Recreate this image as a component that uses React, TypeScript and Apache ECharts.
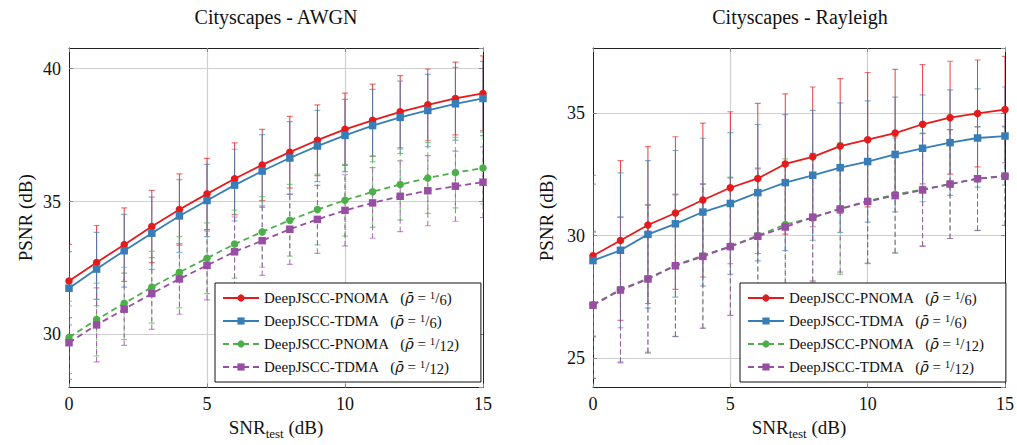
import React, { useEffect, useRef } from 'react';
import * as echarts from 'echarts';

// ---------- data ----------
const snr = [0, 1, 2, 3, 4, 5, 6, 7, 8, 9, 10, 11, 12, 13, 14, 15];

// AWGN
const awgnPnoma16 = [32.01, 32.71, 33.38, 34.06, 34.70, 35.29, 35.86, 36.38, 36.86, 37.31, 37.72, 38.06, 38.38, 38.64, 38.88, 39.07];
const awgnTdma16 = [31.74, 32.46, 33.15, 33.81, 34.46, 35.04, 35.62, 36.15, 36.64, 37.09, 37.49, 37.86, 38.17, 38.43, 38.68, 38.88];
const awgnPnoma112 = [29.89, 30.56, 31.17, 31.78, 32.34, 32.87, 33.40, 33.86, 34.30, 34.70, 35.05, 35.37, 35.64, 35.89, 36.09, 36.26];
const awgnTdma112 = [29.69, 30.36, 30.95, 31.54, 32.09, 32.60, 33.11, 33.53, 33.96, 34.33, 34.67, 34.95, 35.20, 35.41, 35.58, 35.73];
const awgnPnoma16Std = [1.38, 1.39, 1.38, 1.36, 1.34, 1.34, 1.35, 1.34, 1.35, 1.33, 1.36, 1.36, 1.36, 1.35, 1.37, 1.41];
const awgnTdma16Std = [1.38, 1.38, 1.37, 1.36, 1.37, 1.36, 1.35, 1.37, 1.37, 1.34, 1.36, 1.36, 1.36, 1.36, 1.37, 1.40];
const awgnPnoma112Std = [1.36, 1.37, 1.36, 1.35, 1.34, 1.33, 1.28, 1.33, 1.35, 1.33, 1.35, 1.34, 1.34, 1.33, 1.33, 1.35];
const awgnTdma112Std = [1.38, 1.39, 1.36, 1.35, 1.33, 1.30, 1.31, 1.31, 1.32, 1.28, 1.34, 1.33, 1.33, 1.32, 1.32, 1.33];

// Rayleigh
const rayPnoma16 = [29.18, 29.80, 30.43, 30.92, 31.45, 31.95, 32.33, 32.92, 33.21, 33.65, 33.91, 34.18, 34.54, 34.81, 34.98, 35.14];
const rayTdma16 = [28.98, 29.40, 30.05, 30.48, 30.96, 31.31, 31.75, 32.16, 32.46, 32.77, 33.02, 33.31, 33.56, 33.79, 33.98, 34.06];
const rayPnoma112 = [27.18, 27.80, 28.25, 28.79, 29.18, 29.56, 30.00, 30.45, 30.72, 31.10, 31.40, 31.68, 31.88, 32.10, 32.32, 32.44];
const rayTdma112 = [27.16, 27.78, 28.23, 28.77, 29.15, 29.55, 29.97, 30.35, 30.75, 31.08, 31.39, 31.63, 31.86, 32.10, 32.32, 32.42];
const rayPnoma16Std = [3.28, 3.26, 3.20, 3.11, 3.14, 3.10, 3.06, 2.86, 2.85, 2.75, 2.74, 2.60, 2.43, 2.30, 2.18, 2.17];
const rayTdma16Std = [3.12, 3.16, 3.01, 2.99, 3.01, 2.89, 2.78, 2.77, 2.65, 2.64, 2.47, 2.34, 2.18, 2.15, 2.00, 2.00];
const rayPnoma112Std = [3.00, 2.95, 3.00, 2.90, 2.94, 2.82, 2.76, 2.68, 2.62, 2.68, 2.55, 2.37, 2.30, 2.22, 2.12, 2.02];
const rayTdma112Std = [2.98, 2.97, 3.02, 2.89, 2.94, 2.80, 2.75, 2.65, 2.60, 2.57, 2.51, 2.35, 2.30, 2.22, 2.11, 2.01];

const titles = ['Cityscapes - AWGN', 'Cityscapes - Rayleigh'];
const seriesNames = [
  'DeepJSCC-PNOMA (1/6)',
  'DeepJSCC-TDMA (1/6)',
  'DeepJSCC-PNOMA (1/12)',
  'DeepJSCC-TDMA (1/12)',
];
const EN = '\u2002\u2005';
const QS = '\u2005';
const legendLabels: Record<string, string> = {
  'DeepJSCC-PNOMA (1/6)': `{m|DeepJSCC-PNOMA${EN}(}{i|ρ̄}{m|${QS}=${QS}}{s|1}{m|/}{d|6}{m|)}`,
  'DeepJSCC-TDMA (1/6)': `{m|DeepJSCC-TDMA${EN}(}{i|ρ̄}{m|${QS}=${QS}}{s|1}{m|/}{d|6}{m|)}`,
  'DeepJSCC-PNOMA (1/12)': `{m|DeepJSCC-PNOMA${EN}(}{i|ρ̄}{m|${QS}=${QS}}{s|1}{m|/}{d|12}{m|)}`,
  'DeepJSCC-TDMA (1/12)': `{m|DeepJSCC-TDMA${EN}(}{i|ρ̄}{m|${QS}=${QS}}{s|1}{m|/}{d|12}{m|)}`,
};

const COLORS = ['#e41a1c', '#377eb8', '#4daf4a', '#984ea3'];
const SYMBOLS = ['circle', 'rect', 'circle', 'rect'];
const DASHED = [false, false, true, true];
const FONT = 'Liberation Serif';

const GRID_LEFT = [69, 593];
const GRID_TOP = 48;
const GRID_W = 414;
const GRID_H = 345;
const Y_RANGE = [
  [28, 40.78],
  [23.8, 37.65],
];

function App() {
  const ref = useRef<HTMLDivElement>(null);

  useEffect(() => {
    if (!ref.current) return;
    const chart = echarts.init(ref.current, undefined, { renderer: 'svg' });

    const panels = [
      { vals: [awgnPnoma16, awgnTdma16, awgnPnoma112, awgnTdma112], stds: [awgnPnoma16Std, awgnTdma16Std, awgnPnoma112Std, awgnTdma112Std] },
      { vals: [rayPnoma16, rayTdma16, rayPnoma112, rayTdma112], stds: [rayPnoma16Std, rayTdma16Std, rayPnoma112Std, rayTdma112Std] },
    ];

    const grids = GRID_LEFT.map((l) => ({ left: l, top: GRID_TOP, width: GRID_W, height: GRID_H, show: false }));

    const frameLine = { show: true, onZero: false, lineStyle: { color: '#222', width: 1 } };
    const tick = { show: true, inside: true, length: 4, lineStyle: { color: '#888', width: 1 } };
    const split = { show: true, showMinLine: false, showMaxLine: false, lineStyle: { color: '#cfcfcf', width: 1.2 } };

    const xAxes: any[] = [];
    const yAxes: any[] = [];
    GRID_LEFT.forEach((_, g) => {
      xAxes.push({
        type: 'value', gridIndex: g, min: 0, max: 15, interval: 5, position: 'bottom',
        axisLine: frameLine, axisTick: tick, splitLine: split,
        axisLabel: { fontFamily: FONT, fontSize: 18, color: '#111', margin: 7 },
        name: '{a|SNR}{b|test}{a| (dB)}', nameLocation: 'middle', nameGap: 26,
        nameTextStyle: {
          fontFamily: FONT,
          rich: {
            a: { fontFamily: FONT, fontSize: 19, color: '#111', lineHeight: 26, verticalAlign: 'middle' },
            b: { fontFamily: FONT, fontSize: 13, color: '#111', lineHeight: 12, verticalAlign: 'bottom' },
          },
        },
      });
      xAxes.push({
        type: 'value', gridIndex: g, min: 0, max: 15, interval: 5, position: 'top',
        axisLine: frameLine, axisTick: tick, splitLine: { show: false }, axisLabel: { show: false },
      });
      const [ymin, ymax] = Y_RANGE[g];
      yAxes.push({
        type: 'value', gridIndex: g, min: ymin, max: ymax, splitNumber: 3, position: 'left',
        axisLine: frameLine, axisTick: tick, splitLine: split,
        axisLabel: {
          fontFamily: FONT, fontSize: 18, color: '#111', margin: 8, showMinLabel: false, showMaxLabel: false,
          formatter: (v: number) => (Math.abs(v - Math.round(v / 5) * 5) < 1e-6 ? String(v) : ''),
        },
        name: 'PSNR (dB)', nameLocation: 'middle', nameGap: g === 0 ? 34 : 37,
        nameTextStyle: { fontFamily: FONT, fontSize: 19, color: '#111' },
      });
      yAxes.push({
        type: 'value', gridIndex: g, min: ymin, max: ymax, splitNumber: 3, position: 'right',
        axisLine: frameLine, axisTick: tick, splitLine: { show: false }, axisLabel: { show: false },
      });
    });

    const series: any[] = [];
    panels.forEach((p, g) => {
      p.vals.forEach((vals, k) => {
        const color = COLORS[k];
        const stds = p.stds[k];
        series.push({
          type: 'custom',
          name: seriesNames[k] + ' err ' + g,
          xAxisIndex: g * 2,
          yAxisIndex: g * 2,
          clip: true,
          silent: true,
          z: 2,
          data: snr.map((x, i) => [x, vals[i] - stds[i], vals[i] + stds[i]]),
          encode: { x: 0, y: [1, 2] },
          renderItem: (params: any, api: any) => {
            const x = api.value(0);
            const lo = api.coord([x, api.value(1)]);
            const hi = api.coord([x, api.value(2)]);
            const w = 3;
            return {
              type: 'group',
              children: [
                { type: 'line', shape: { x1: lo[0], y1: lo[1], x2: hi[0], y2: hi[1] }, style: { stroke: color, lineWidth: 1, lineDash: DASHED[k] ? [5, 3] : null, opacity: 0.85 } },
                { type: 'line', shape: { x1: hi[0] - w, y1: hi[1], x2: hi[0] + w, y2: hi[1] }, style: { stroke: color, lineWidth: 1.2, opacity: 0.6 } },
                { type: 'line', shape: { x1: lo[0] - w, y1: lo[1], x2: lo[0] + w, y2: lo[1] }, style: { stroke: color, lineWidth: 1.2, opacity: 0.6 } },
              ],
            };
          },
        });
      });
    });
    panels.forEach((p, g) => {
      p.vals.forEach((vals, k) => {
        const color = COLORS[k];
        series.push({
          type: 'line',
          name: seriesNames[k],
          xAxisIndex: g * 2,
          yAxisIndex: g * 2,
          z: 5,
          data: snr.map((x, i) => [x, vals[i]]),
          symbol: SYMBOLS[k],
          symbolSize: 7.5,
          showSymbol: true,
          lineStyle: { color, width: 1.8, type: DASHED[k] ? [6, 4] : 'solid' },
          itemStyle: { color },
        });
      });
    });

    const legendCommon = {
      orient: 'vertical',
      top: 283,
      data: seriesNames,
      backgroundColor: '#fff',
      borderColor: '#111',
      borderWidth: 1,
      borderRadius: 0,
      padding: [6, 22, 6, 7],
      itemWidth: 36,
      itemHeight: 9,
      itemGap: 5,
      selectedMode: false,
      formatter: (name: string) => legendLabels[name] || name,
      textStyle: {
        fontFamily: FONT, fontSize: 15, color: '#111', lineHeight: 18,
        rich: {
          i: { fontFamily: 'DejaVu Serif', fontSize: 14.5, fontStyle: 'italic', color: '#111', lineHeight: 18 },
          m: { fontFamily: FONT, fontSize: 15, color: '#111', lineHeight: 18 },
          s: { fontFamily: FONT, fontSize: 11, color: '#111', lineHeight: 12, verticalAlign: 'top' },
          d: { fontFamily: FONT, fontSize: 14.5, color: '#111', lineHeight: 17, verticalAlign: 'bottom' },
        },
      },
      z: 20,
    };

    chart.setOption({
      animation: false,
      backgroundColor: '#fff',
      grid: grids,
      xAxis: xAxes,
      yAxis: yAxes,
      legend: [
        { ...legendCommon, left: 215 },
        { ...legendCommon, left: 740 },
      ],
      graphic: titles.map((t, g) => ({
        type: 'text',
        x: GRID_LEFT[g] + GRID_W / 2,
        y: 17,
        style: { text: t, font: `20px ${FONT}`, fill: '#111', textAlign: 'center', textVerticalAlign: 'middle' },
      })),
      series,
    });

    return () => chart.dispose();
  }, []);

  return <div ref={ref} style={{ position: 'absolute', left: 0, top: 0, width: 1017, height: 445 }} />;
}

export default App;
